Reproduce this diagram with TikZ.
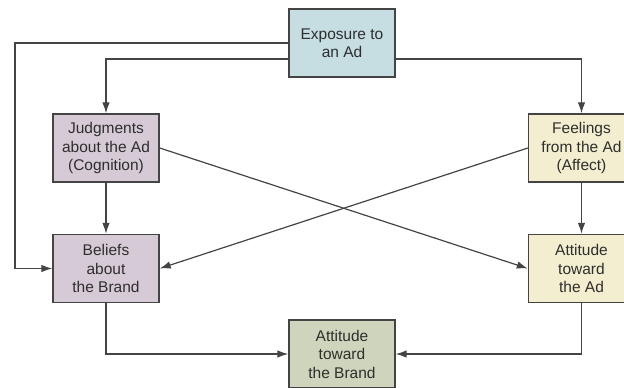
\documentclass[tikz,border=0pt]{standalone}
\usepackage{fontspec}
\setmainfont{Liberation Sans}
\usepackage{xcolor}
\usepackage{tikz}
\usetikzlibrary{arrows.meta,calc}
\definecolor{exposeB}{HTML}{C6DDE1}
\definecolor{cogP}{HTML}{D6CAD6}
\definecolor{affY}{HTML}{F3EECF}
\definecolor{brandG}{HTML}{CFD5BC}
\definecolor{edgeD}{HTML}{444444}
\definecolor{txtD}{HTML}{2E2E2E}

\begin{document}
\begin{tikzpicture}[
  x=1pt, y=-1pt,
  bx/.style={rectangle, draw=edgeD, line width=1.4pt, minimum width=106pt, minimum height=68pt, inner sep=0pt, align=center, text=txtD, font=\fontsize{15.5}{18.5}\selectfont},
  arr/.style={draw=edgeD, line width=1.2pt, -{Latex[length=11pt,width=7.5pt]}},
  ln/.style={draw=edgeD, line width=1.2pt}
]
\useasboundingbox (0,0) rectangle (624,388);

% Top
\node[bx, fill=exposeB] (expo) at (342,43) {Exposure to\\an Ad};

% Left column
\node[bx, fill=cogP] (judg) at (106,148) {Judgments\\about the Ad\\(Cognition)};
\node[bx, fill=cogP] (bel) at (106,268.5) {Beliefs\\about\\the Brand};

% Right column
\node[bx, fill=affY] (feel) at (581.5,148) {Feelings\\from the Ad\\(Affect)};
\node[bx, fill=affY] (attad) at (581.5,268.5) {Attitude\\toward\\the Ad};

% Bottom
\node[bx, fill=brandG] (attbr) at (342,354) {Attitude\\toward\\the Brand};

% Exposure links
\coordinate (lft) at (15,43);
\draw[arr] (expo.west) -- (lft) |- (bel.west);
\draw[arr] ([yshift=-16pt]expo.west) -| (judg.north);
\draw[arr] ([yshift=-16pt]expo.east) -| (feel.north);

% Columns
\draw[arr] (judg) -- (bel);
\draw[arr] (feel) -- (attad);

% Cross
\draw[arr] (judg.east) -- (attad.west);
\draw[arr] (feel.west) -- (bel.east);

% To brand attitude
\draw[arr] (bel.south) |- (attbr.west);
\draw[arr] (attad.south) |- (attbr.east);
\end{tikzpicture}
\end{document}
